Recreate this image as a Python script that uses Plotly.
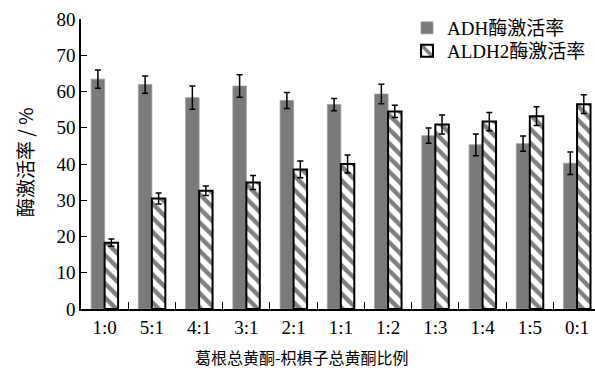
import plotly.graph_objects as go

# Ratio of Pueraria total flavonoids to Hovenia total flavonoids
ratios = ["1:0", "5:1", "4:1", "3:1", "2:1", "1:1", "1:2", "1:3", "1:4", "1:5", "0:1"]

# Enzyme activation rates (%) with standard deviations
adh_rate = [63.4, 61.9, 58.3, 61.5, 57.5, 56.4, 59.3, 47.8, 45.3, 45.6, 40.2]
adh_err = [2.5, 2.4, 3.2, 3.1, 2.2, 1.7, 2.7, 2.1, 3.0, 2.1, 3.1]
aldh2_rate = [18.3, 30.5, 32.6, 34.9, 38.5, 40.0, 54.5, 50.9, 51.7, 53.2, 56.5]
aldh2_err = [1.0, 1.5, 1.3, 1.9, 2.3, 2.5, 1.7, 2.6, 2.5, 2.6, 2.6]

y_ticks = [0, 10, 20, 30, 40, 50, 60, 70, 80]

FONT = "Liberation Serif, Times New Roman, Noto Sans CJK SC, serif"
CJK = "Noto Sans CJK SC, Liberation Serif, serif"

W, H = 595, 371
ML, MR, MT, MB = 81, 0, 19, 62

pw = W - ML - MR
ph = H - MT - MB


def px_x(x):
    return (x - ML) / pw


def px_y(y):
    return (MT + ph - y) / ph


fig = go.Figure()
fig.add_trace(go.Bar(
    x=ratios, y=adh_rate, name="ADH酶激活率", legend="legend",
    marker=dict(color="#7a7a7a", line=dict(color="#9a9a9a", width=0.8)),
    error_y=dict(type="data", array=adh_err, color="black", thickness=1.5, width=3),
))
fig.add_trace(go.Bar(
    x=ratios, y=aldh2_rate, name="ALDH2酶激活率", legend="legend2",
    marker=dict(
        color="white",
        line=dict(color="black", width=2),
        pattern=dict(shape="\\", fgcolor="black", bgcolor="white", size=10, solidity=0.45),
    ),
    error_y=dict(type="data", array=aldh2_err, color="black", thickness=1.5, width=3),
))

legend_style = dict(
    xanchor="left", yanchor="top",
    bgcolor="rgba(0,0,0,0)",
    font=dict(family=FONT, size=19, color="black"),
    itemwidth=30,
)

fig.update_layout(
    width=W, height=H,
    margin=dict(l=ML, r=MR, t=MT, b=MB),
    paper_bgcolor="white", plot_bgcolor="white",
    barmode="group", bargap=0.43, bargroupgap=0,
    font=dict(family=FONT, size=19, color="black"),
    showlegend=True,
    legend=dict(x=px_x(407), y=px_y(9), **legend_style),
    legend2=dict(x=px_x(407), y=px_y(32), **legend_style),
    xaxis=dict(
        type="category", range=[-0.5, 10.38],
        showline=True, linecolor="black", linewidth=1.5,
        ticks="inside", tickson="boundaries", ticklen=7, tickwidth=1.2, tickcolor="black",
        tickfont=dict(family=FONT, size=19), showgrid=False, zeroline=False,
    ),
    yaxis=dict(
        range=[0, 80], tickvals=y_ticks,
        showline=True, linecolor="black", linewidth=1.5,
        ticks="inside", ticklen=6, tickwidth=1.2, tickcolor="black",
        tickfont=dict(family=FONT, size=19), showgrid=False, zeroline=False,
    ),
    annotations=[
        dict(text="酶激活率 / %", textangle=-90, showarrow=False,
             xref="paper", yref="paper",
             x=px_x(24), y=px_y(163),
             xanchor="center", yanchor="middle",
             font=dict(family=CJK, size=19, color="black")),
        dict(text="葛根总黄酮-枳椇子总黄酮比例", showarrow=False,
             xref="paper", yref="paper",
             x=px_x(302), y=px_y(357),
             xanchor="center", yanchor="middle",
             font=dict(family=CJK, size=16, color="black")),
    ],
)

fig.write_html("out.html")
